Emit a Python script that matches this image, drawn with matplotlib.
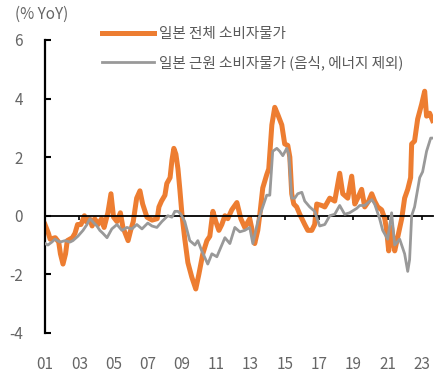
import matplotlib
matplotlib.use('Agg')
import matplotlib.pyplot as plt

plt.rcParams['font.family'] = ['Noto Sans CJK KR', 'DejaVu Sans']

# headline CPI, % YoY (decimal year, value)
headline_x = [2001.0, 2001.2, 2001.3, 2001.6, 2001.8, 2001.9, 2002.05, 2002.2, 2002.3, 2002.6,
              2002.75, 2002.9, 2003.1, 2003.3, 2003.4, 2003.6, 2003.75, 2003.9, 2004.1, 2004.3,
              2004.45, 2004.67, 2004.85, 2005.0, 2005.2, 2005.4, 2005.55, 2005.85, 2006.0, 2006.15,
              2006.35, 2006.54, 2006.7, 2006.95, 2007.25, 2007.55, 2007.65, 2007.8, 2008.0, 2008.11,
              2008.3, 2008.41, 2008.52, 2008.64, 2008.76, 2008.87, 2009.0, 2009.16, 2009.34, 2009.57,
              2009.8, 2009.98, 2010.21, 2010.45, 2010.62, 2010.8, 2010.97, 2011.15, 2011.32, 2011.5,
              2011.67, 2011.9, 2012.2, 2012.43, 2012.66, 2012.95, 2013.13, 2013.24, 2013.42, 2013.54,
              2013.71, 2013.94, 2014.06, 2014.24, 2014.41, 2014.59, 2014.82, 2014.99, 2015.17, 2015.29,
              2015.4, 2015.52, 2015.69, 2015.87, 2016.16, 2016.34, 2016.57, 2016.74, 2016.86, 2017.15,
              2017.33, 2017.62, 2017.91, 2018.2, 2018.38, 2018.67, 2018.9, 2019.08, 2019.25, 2019.48,
              2019.66, 2019.89, 2020.07, 2020.24, 2020.42, 2020.65, 2020.83, 2020.94, 2021.06, 2021.23,
              2021.41, 2021.58, 2021.82, 2021.99, 2022.17, 2022.34, 2022.4, 2022.57, 2022.75, 2022.98,
              2023.16, 2023.27, 2023.45, 2023.62]
headline_y = [-0.3, -0.6, -0.8, -0.75, -0.9, -1.3, -1.65, -1.3, -0.85, -0.75,
              -0.6, -0.3, -0.3, 0.0, -0.2, -0.1, -0.35, -0.1, -0.3, -0.1,
              -0.4, 0.1, 0.75, -0.05, -0.2, 0.1, -0.4, -0.85, -0.5, -0.2,
              0.6, 0.85, 0.4, -0.05, -0.15, -0.1, 0.3, 0.5, 0.7, 1.1,
              1.3, 1.9, 2.3, 2.1, 1.6, 0.9, 0.0, -0.8, -1.6, -2.1,
              -2.5, -2.0, -1.3, -0.85, -0.7, 0.15, -0.2, -0.5, -0.3, 0.0,
              -0.1, 0.2, 0.45, -0.1, -0.4, -0.1, -0.6, -0.95, -0.5, 0.05,
              0.95, 1.4, 1.6, 3.1, 3.7, 3.45, 3.1, 2.45, 2.4, 2.0,
              0.75, 0.4, 0.3, 0.05, -0.3, -0.5, -0.5, -0.3, 0.4, 0.35,
              0.3, 0.6, 0.5, 1.45, 0.75, 0.6, 1.35, 0.4, 0.6, 0.9,
              0.3, 0.5, 0.75, 0.5, 0.3, 0.2, -0.1, -0.5, -1.2, -0.4,
              -1.2, -0.75, -0.1, 0.6, 0.9, 1.3, 2.45, 2.55, 3.3, 3.8,
              4.25, 3.4, 3.5, 3.25]

# core CPI excl. food and energy, % YoY
core_x = [2001.0, 2001.17, 2001.4, 2001.58, 2001.87, 2002.17, 2002.46, 2002.63, 2002.92, 2003.22,
          2003.45, 2003.62, 2003.86, 2004.03, 2004.2, 2004.38, 2004.62, 2004.9, 2005.2, 2005.49,
          2005.78, 2006.07, 2006.36, 2006.66, 2007.0, 2007.24, 2007.53, 2007.82, 2008.17, 2008.41,
          2008.58, 2008.76, 2008.93, 2009.16, 2009.45, 2009.75, 2009.92, 2010.15, 2010.5, 2010.74,
          2011.03, 2011.32, 2011.5, 2011.79, 2012.08, 2012.37, 2012.66, 2012.95, 2013.13, 2013.42,
          2013.71, 2013.94, 2014.12, 2014.29, 2014.53, 2014.7, 2014.88, 2015.11, 2015.23, 2015.4,
          2015.58, 2015.75, 2015.99, 2016.16, 2016.45, 2016.74, 2017.03, 2017.33, 2017.62, 2017.91,
          2018.2, 2018.49, 2018.78, 2019.19, 2019.37, 2019.66, 2020.07, 2020.24, 2020.53, 2020.71,
          2021.0, 2021.23, 2021.41, 2021.7, 2021.99, 2022.17, 2022.28, 2022.4, 2022.57, 2022.87,
          2023.04, 2023.27, 2023.51, 2023.62]
core_y = [-0.95, -1.0, -0.9, -0.8, -0.9, -0.85, -0.9, -0.85, -0.7, -0.5,
          -0.3, -0.1, -0.25, -0.35, -0.5, -0.6, -0.75, -0.45, -0.3, -0.5,
          -0.4, -0.45, -0.3, -0.45, -0.25, -0.35, -0.4, -0.2, 0.0, -0.05,
          0.15, 0.15, 0.05, -0.2, -0.85, -1.0, -0.85, -1.2, -1.65, -1.3,
          -1.4, -1.0, -0.75, -0.95, -0.4, -0.55, -0.5, -0.4, -0.95, -0.2,
          0.3, 0.7, 0.7, 2.2, 2.3, 2.2, 2.05, 2.3, 2.1, 0.6,
          0.6, 0.75, 0.8, 0.5, 0.3, 0.15, -0.35, -0.3, 0.0, 0.05,
          0.35, 0.05, 0.1, 0.25, 0.35, 0.35, 0.55, 0.4, -0.1, -0.5,
          -0.8, 0.1, -1.0, -0.8, -1.3, -1.9, -1.5, 0.0, 0.3, 1.3,
          1.5, 2.2, 2.65, 2.65]

year_ticks = [2001, 2003, 2005, 2007, 2009, 2011, 2013, 2015, 2017, 2019, 2021, 2023]
year_labels = ['01', '03', '05', '07', '09', '11', '13', '15', '17', '19', '21', '23']
y_ticks = [-4, -2, 0, 2, 4, 6]

orange = '#ED7D31'
gray = '#999999'
txt = '#666666'

fig = plt.figure(figsize=(4.39, 3.88), dpi=100)
ax = fig.add_axes([0.1025, 0.142, 0.884, 0.755])

ax.plot(core_x, core_y, color=gray, lw=2.0, label='일본 근원 소비자물가 (음식, 에너지 제외)', zorder=3)
ax.plot(headline_x, headline_y, color=orange, lw=3.6, label='일본 전체 소비자물가', zorder=2)

ax.set_xlim(2001, 2023.65)
ax.set_ylim(-4, 6)

for s in ['top', 'right']:
    ax.spines[s].set_visible(False)
ax.spines['left'].set_linewidth(1.6)
ax.spines['bottom'].set_position(('data', 0))
ax.spines['bottom'].set_linewidth(1.3)

ax.set_yticks(y_ticks)
ax.set_yticklabels([str(v) for v in y_ticks])
ax.tick_params(axis='y', direction='in', length=4, width=1.5, pad=16, labelsize=11, labelcolor=txt)
ax.set_xticks(year_ticks)
ax.set_xticklabels(year_labels)
ax.tick_params(axis='x', direction='out', length=3, width=1.2, pad=98, labelsize=11, labelcolor=txt)

handles, labels = ax.get_legend_handles_labels()
leg = fig.legend(handles[::-1], labels[::-1], loc='upper left', bbox_to_anchor=(0.232, 0.93),
                 frameon=False, fontsize=10.5, handlelength=3.6, handletextpad=0.3,
                 labelspacing=1.0, borderpad=0, borderaxespad=0)
for t in leg.get_texts():
    t.set_color('#595959')

fig.text(0.035, 0.962, '(% YoY)', fontsize=11, color=txt, va='center', ha='left')

fig.savefig('out.png', dpi=100)
